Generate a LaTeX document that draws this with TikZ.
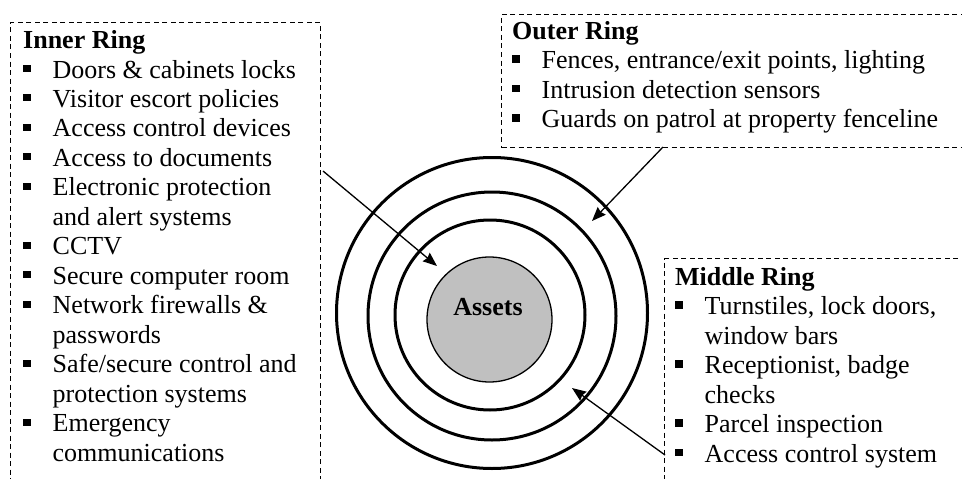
\documentclass[tikz,border=0pt]{standalone}
\usepackage{fontspec}
\setmainfont{Liberation Serif}
\usetikzlibrary{arrows.meta}
\newcommand{\bul}{\makebox[29.5pt][l]{\rule[6pt]{7.4pt}{7.4pt}}}
\newcommand{\cont}{\hspace*{29.5pt}}
\newenvironment{ringlist}[1]{\begin{minipage}[t]{#1}\fontsize{26pt}{29.5pt}\selectfont\setlength{\parindent}{0pt}\setlength{\parskip}{0pt}}{\end{minipage}}
\begin{document}
\begin{tikzpicture}[x=1pt,y=-1pt,
  ring/.style={draw, circle, line width=3pt, inner sep=0pt},
  dashbox/.style={draw, line width=1pt, dash pattern=on 5pt off 3.5pt, anchor=north west, inner sep=0pt},
  txt/.style={anchor=base west, inner sep=0pt},
  arr/.style={line width=1.3pt, -{Stealth[length=14pt,width=11pt,inset=1.5pt]}}]
\useasboundingbox (0,0) rectangle (962,479);
\clip (0,0) rectangle (962,479);
% boxes
\node[dashbox, minimum width=310pt, minimum height=480pt] (innerbox) at (10,22) {};
\node[dashbox, minimum width=480pt, minimum height=133pt] (outerbox) at (501,14) {};
\node[dashbox, minimum width=320pt, minimum height=240pt] (middlebox) at (664,258) {};
% rings
\node[ring, minimum size=311pt] (outerring) at (492,313) {};
\node[ring, minimum size=248pt] (middlering) at (492,316) {};
\node[ring, minimum size=190pt] (innerring) at (490,315) {};
\node[draw, circle, line width=1.3pt, fill={rgb,255:red,192;green,192;blue,192}, minimum size=125pt, inner sep=0pt] (assets) at (489.5,319.5) {};
\node[font=\fontsize{26pt}{29.5pt}\selectfont\bfseries, inner sep=0pt] (assetslabel) at (488,307) {Assets};
% texts
\node[txt] (innertext) at (23,48.5) {\begin{ringlist}{300pt}
\textbf{Inner Ring}\par
\bul Doors \& cabinets locks\par
\bul Visitor escort policies\par
\bul Access control devices\par
\bul Access to documents\par
\bul Electronic protection\par
\cont and alert systems\par
\bul CCTV\par
\bul Secure computer room\par
\bul Network firewalls \&\par
\cont passwords\par
\bul Safe/secure control and\par
\cont protection systems\par
\bul Emergency\par
\cont communications\par
\end{ringlist}};
\node[txt] (outertext) at (512,39) {\begin{ringlist}{440pt}
\textbf{Outer Ring}\par
\bul Fences, entrance/exit points, lighting\par
\bul Intrusion detection sensors\par
\bul Guards on patrol at property fenceline\par
\end{ringlist}};
\node[txt] (middletext) at (675,285) {\begin{ringlist}{285pt}
\textbf{Middle Ring}\par
\bul Turnstiles, lock doors,\par
\cont window bars\par
\bul Receptionist, badge\par
\cont checks\par
\bul Parcel inspection\par
\bul Access control system\par
\end{ringlist}};
% arrows
\coordinate (a1s) at (323,171);
\coordinate (a1e) at (437,266);
\coordinate (a2s) at (663,147);
\coordinate (a2e) at (592,221);
\coordinate (a3s) at (665,455);
\coordinate (a3e) at (572,388);
\draw[arr] (a1s) -- (a1e);
\draw[arr] (a2s) -- (a2e);
\draw[arr] (a3s) -- (a3e);
\end{tikzpicture}
\end{document}
